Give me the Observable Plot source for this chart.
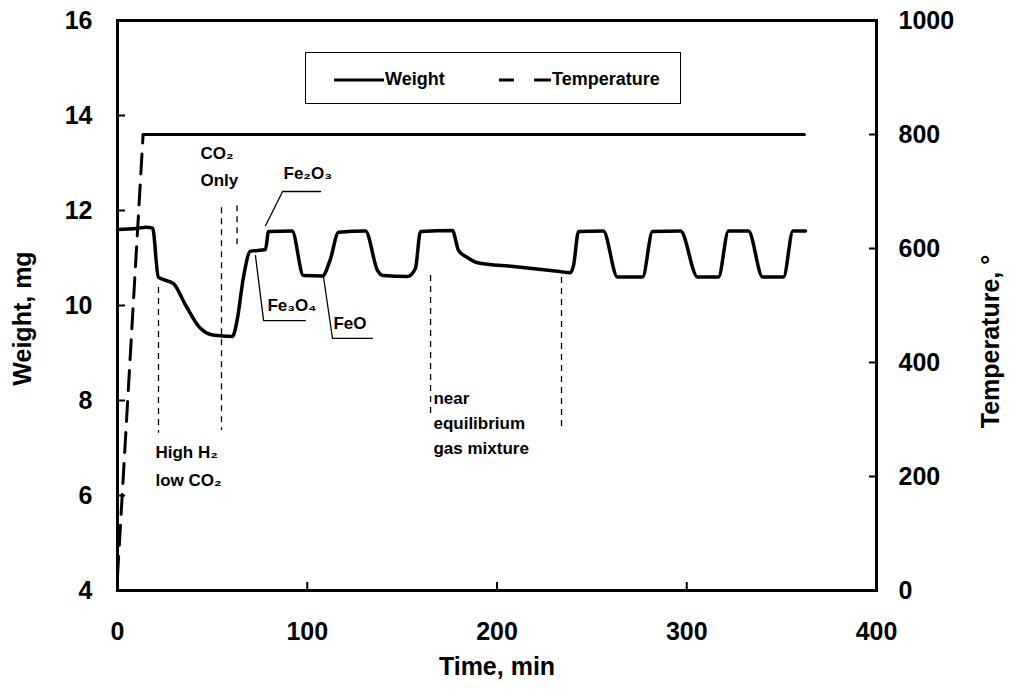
<!DOCTYPE html>
<html>
<head>
<meta charset="utf-8">
<script src="https://cdn.jsdelivr.net/npm/d3@7"></script>
<script src="https://cdn.jsdelivr.net/npm/@observablehq/plot@0.6"></script>
<style>
  body { margin: 0; background: #fff; }
  #wrap { position: relative; width: 1009px; height: 690px; font-family: "Liberation Sans", Arial, sans-serif; }
  #legend { position: absolute; left: 305px; top: 52px; width: 374px; height: 50px; border: 1.5px solid #000; background: #fff; }
  #legend text { font-family: "Liberation Sans", Arial, sans-serif; font-weight: bold; font-size: 18px; }
</style>
</head>
<body>
<div id="wrap">
  <div id="legend">
    <svg width="374" height="50">
      <line x1="28" x2="78" y1="27" y2="27" stroke="#000" stroke-width="3"></line>
      <text x="79" y="27" dominant-baseline="middle">Weight</text>
      <line x1="193" x2="208" y1="27" y2="27" stroke="#000" stroke-width="3"></line>
      <line x1="228" x2="245" y1="27" y2="27" stroke="#000" stroke-width="3"></line>
      <text x="246" y="27" dominant-baseline="middle">Temperature</text>
    </svg>
  </div>
</div>
<script>
// Thermogravimetric run: sample weight (mg) and furnace temperature (°C) vs time (min)
const weightTime = [0, 10, 15, 18.5, 21.5, 24, 29.5, 36, 43.7, 49, 55, 60.6, 63, 66.4, 70, 78, 79.6, 92,
  98, 108, 112, 116.5, 130.7, 137, 140, 152.8, 157, 159.7, 176.5, 179.7, 184, 189.7, 208.7, 231.9, 238.7,
  240.3, 243, 256, 263.5, 276.7, 282, 296.7, 305.7, 316.7, 322, 332.5, 340, 351, 356, 362.6];
const weightMg = [11.6, 11.62, 11.65, 11.63, 10.6, 10.55, 10.46, 10.0, 9.52, 9.39, 9.36, 9.35, 9.68, 10.6,
  11.14, 11.18, 11.56, 11.57, 10.63, 10.62, 10.95, 11.54, 11.57, 10.74, 10.63, 10.61, 10.78, 11.56, 11.58,
  11.16, 11.02, 10.9, 10.82, 10.72, 10.69, 10.84, 11.56, 11.57, 10.6, 10.6, 11.56, 11.57, 10.6, 10.6, 11.57,
  11.57, 10.6, 10.6, 11.57, 11.57];

const tempTime = [0, 13.5, 362];
const tempC = [25, 800, 800];

const timeTicks = [0, 100, 200, 300, 400];
const weightTicks = [4, 6, 8, 10, 12, 14, 16];
const tempTicks = [0, 200, 400, 600, 800, 1000];

// Gas-switch markers (dashed verticals)
const switchTime = [21.6, 54.8, 63, 165, 234];
const switchTop = [10.38, 12.06, 12.1, 10.63, 10.59];
const switchBottom = [7.31, 7.37, 11.26, 7.62, 7.41];

// Phase annotations (one entry per text line)
const noteText = ["CO₂", "Only", "Fe₂O₃", "Fe₃O₄", "FeO", "High H₂", "low CO₂", "near", "equilibrium", "gas mixture"];
const noteTime = [43.7, 43.7, 87.5, 79, 113.8, 20, 20, 166.5, 166.5, 166.5];
const noteWeight = [13.2, 12.63, 12.78, 10.0, 9.62, 6.905, 6.316, 8.04, 7.52, 6.99];

// Leader lines from the curve to the phase labels
const leaderId = ["Fe2O3", "Fe2O3", "Fe2O3", "Fe3O4", "Fe3O4", "Fe3O4", "FeO", "FeO", "FeO"];
const leaderTime = [78, 87, 107, 72.7, 77, 99, 108.6, 113.3, 134.4];
const leaderWeight = [11.68, 12.4, 12.4, 11.05, 9.68, 9.68, 10.59, 9.31, 9.31];

// The right axis (0–1000 °C) shares the plot height with the left axis (4–16 mg)
const toW = T => 4 + T * 12 / 1000;
const toT = w => Math.round((w - 4) * 1000 / 12);

const weight = weightTime.map((t, i) => ({t, w: weightMg[i]}));
const temp = tempTime.map((t, i) => ({t, w: toW(tempC[i])}));
const ramp = temp.slice(0, 2);
const plateau = temp.slice(1);
const switches = switchTime.map((t, i) => ({t, w1: switchTop[i], w2: switchBottom[i]}));
const notes = noteText.map((label, i) => ({label, t: noteTime[i], w: noteWeight[i]}));
const leaders = leaderId.map((id, i) => ({id, t: leaderTime[i], w: leaderWeight[i]}));

const bold = {fontWeight: "bold"};
const title = {fontSize: 25, fontWeight: "bold", textAnchor: "middle", lineAnchor: "middle"};

const chart = Plot.plot({
  width: 1009,
  height: 690,
  marginLeft: 117,
  marginRight: 133,
  marginTop: 20,
  marginBottom: 100,
  style: {fontFamily: "'Liberation Sans', Arial, sans-serif", background: "white", color: "black"},
  x: {domain: [0, 400]},
  y: {domain: [4, 16]},
  marks: [
    Plot.axisX(timeTicks, {anchor: "bottom", tickSize: -8, tickPadding: 40, fontSize: 25, ...bold, strokeWidth: 2, label: null}),
    Plot.axisY(weightTicks, {anchor: "left", tickSize: -8, tickPadding: 33, fontSize: 25, ...bold, strokeWidth: 2, label: null}),
    Plot.axisY(tempTicks.map(toW), {anchor: "right", tickSize: -8, tickPadding: 30, fontSize: 25, ...bold, strokeWidth: 2, label: null,
      tickFormat: w => String(toT(w))}),
    Plot.frame({strokeWidth: 3}),
    Plot.ruleX(switches, {x: "t", y1: "w1", y2: "w2", strokeWidth: 1.3, strokeDasharray: "6,5"}),
    Plot.line(leaders, {x: "t", y: "w", z: "id", strokeWidth: 1.3}),
    Plot.line(ramp, {x: "t", y: "w", strokeWidth: 3, strokeDasharray: "20,11"}),
    Plot.line(plateau, {x: "t", y: "w", strokeWidth: 3}),
    Plot.line(weight, {x: "t", y: "w", strokeWidth: 3.5, curve: "monotone-x"}),
    Plot.text(notes, {x: "t", y: "w", text: "label", textAnchor: "start", fontSize: 17, ...bold}),
    Plot.text(["Weight, mg"], {frameAnchor: "left", dx: -95, dy: 13, rotate: -90, ...title}),
    Plot.text(["Time, min"], {frameAnchor: "bottom", dy: 76, ...title}),
    Plot.text(["Temperature, °"], {frameAnchor: "right", dx: 114, dy: 36, rotate: -90, ...title})
  ]
});

document.getElementById("wrap").prepend(chart);
</script>
</body>
</html>
